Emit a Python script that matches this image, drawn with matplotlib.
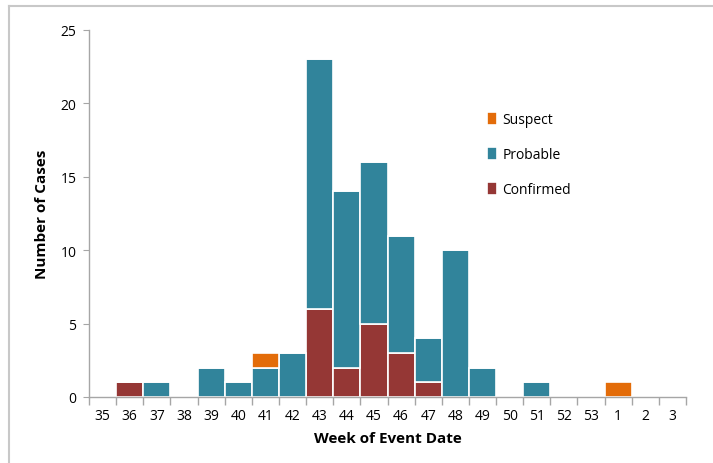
import matplotlib.pyplot as plt
from matplotlib.lines import Line2D
import numpy as np

plt.rcParams['font.family'] = ['Open Sans', 'DejaVu Sans']

weeks = ["35", "36", "37", "38", "39", "40", "41", "42", "43", "44", "45",
         "46", "47", "48", "49", "50", "51", "52", "53", "1", "2", "3"]
confirmed = [0, 1, 0, 0, 0, 0, 0, 0, 6, 2, 5, 3, 1, 0, 0, 0, 0, 0, 0, 0, 0, 0]
probable = [0, 0, 1, 0, 2, 1, 2, 3, 17, 12, 11, 8, 3, 10, 2, 0, 1, 0, 0, 0, 0, 0]
suspect = [0, 0, 0, 0, 0, 0, 1, 0, 0, 0, 0, 0, 0, 0, 0, 0, 0, 0, 0, 1, 0, 0]

C_CONF = "#953735"
C_PROB = "#31849B"
C_SUSP = "#E36C09"
AXIS_GRAY = "#A6A6A6"

fig = plt.figure(figsize=(7.13, 4.64), dpi=100)
ax = fig.add_axes([89 / 713, 1 - 398 / 464, (686 - 89) / 713, (398 - 31) / 464])

x = np.arange(len(weeks))
conf = np.array(confirmed)
prob = np.array(probable)
susp = np.array(suspect)

ax.bar(x, conf, width=1.0, color=C_CONF, edgecolor="white", linewidth=1.2, label="Confirmed")
ax.bar(x, prob, width=1.0, bottom=conf, color=C_PROB, edgecolor="white", linewidth=1.2, label="Probable")
ax.bar(x, susp, width=1.0, bottom=conf + prob, color=C_SUSP, edgecolor="white", linewidth=1.2, label="Suspect")

ax.set_xlim(-0.5, len(weeks) - 0.5)
ax.set_ylim(0, 25)
ax.set_yticks(range(0, 26, 5))
ax.set_xticks(x)
ax.set_xticklabels(weeks)
# tick marks sit between the categories
ax.set_xticks(np.arange(-0.5, len(weeks)), minor=True)
ax.tick_params(axis="x", which="major", length=0, labelsize=10, pad=8)
ax.tick_params(axis="x", which="minor", length=6, color=AXIS_GRAY, width=1)
ax.tick_params(axis="y", length=4, color=AXIS_GRAY, labelsize=10, pad=5)

for side in ["top", "right"]:
    ax.spines[side].set_visible(False)
for side in ["left", "bottom"]:
    ax.spines[side].set_color(AXIS_GRAY)
    ax.spines[side].set_linewidth(1)

ax.set_ylabel("Number of Cases", fontsize=11, fontweight="bold", labelpad=8)
ax.set_xlabel("Week of Event Date", fontsize=11, fontweight="bold", labelpad=6)

handles, labels = ax.get_legend_handles_labels()
ax.legend(handles[::-1], labels[::-1], loc="upper left", bbox_to_anchor=(0.645, 0.81),
          frameon=False, fontsize=10, handlelength=0.75, handleheight=1.05,
          handletextpad=0.4, labelspacing=1.42)

# outer frame of the chart area
fig.add_artist(Line2D([9 / 713, 1], [1 - 7 / 464, 1 - 7 / 464], color="#C8C8C8", lw=1.5,
                      transform=fig.transFigure))
fig.add_artist(Line2D([9 / 713, 9 / 713], [0, 1 - 7 / 464], color="#C8C8C8", lw=1.5,
                      transform=fig.transFigure))

fig.savefig("out.png", dpi=100)
